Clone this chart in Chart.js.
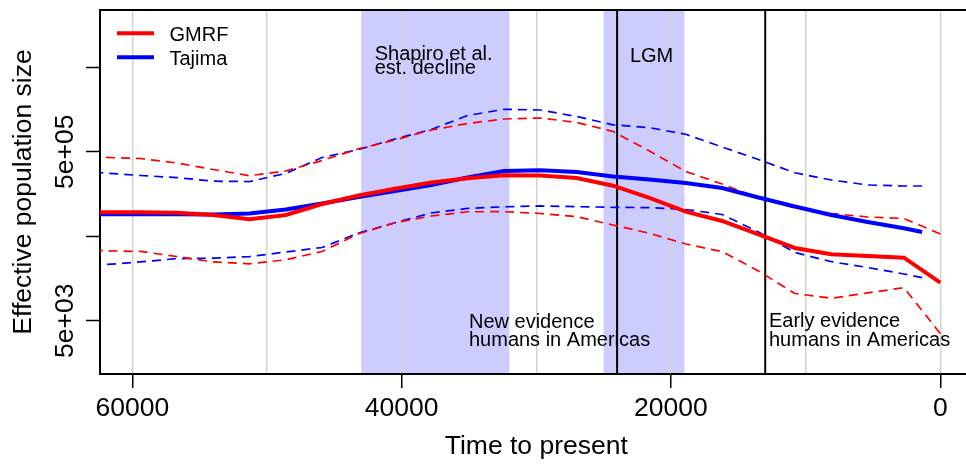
<!DOCTYPE html>
<html>
<head>
<meta charset="utf-8">
<script src="https://cdn.jsdelivr.net/npm/chart.js@4.4.1/dist/chart.umd.min.js"></script>
<style>
  html, body { margin: 0; padding: 0; background: #fff; overflow: hidden; }
  #wrap { width: 966px; height: 464px; overflow: hidden; position: relative; }
  canvas { position: absolute; left: 0; top: 0; }
</style>
</head>
<body>
<div id="wrap"><canvas id="c" width="980" height="464"></canvas></div>
<script>
// ---- data (time before present, effective population size) ----
const gmrfTimes = [0, 2700, 5400, 8100, 10800, 13500, 16200, 18900, 21600, 24300, 27000, 29700,
                   32400, 35100, 37800, 40500, 43200, 45900, 48600, 51300, 54000, 56700, 59400, 62400];
const gmrfMedian = [14100, 27800, 29150, 30530, 36270, 52350, 75650, 97500, 141600, 198000, 244200, 261400,
                    262800, 242800, 215900, 181900, 151600, 120200, 89100, 79250, 89100, 94850, 95900, 95900];
const gmrfUpper = [53100, 81000, 84350, 92800, 107800, 141600, 207400, 291500, 509700, 867000, 1108000, 1252500,
                   1219000, 1078000, 903000, 687700, 541100, 393400, 295500, 260000, 307800, 367500, 415400, 429100];
const gmrfLower = [3528, 12290, 10640, 9205, 10490, 19370, 32790, 40430, 54100, 67860, 85060, 92800,
                   97500, 97240, 86700, 72050, 53380, 32970, 26280, 23570, 24760, 28760, 32970, 33700];

const tajimaTimes = [1350, 2700, 5400, 8100, 10800, 13500, 16200, 18900, 21600, 24300, 27000, 29700,
                     32400, 35100, 37800, 40500, 43200, 45900, 48600, 51300, 54000, 56700, 59400, 62400];
const tajimaMedian = [56060, 62030, 73600, 89100, 112300, 143500, 185900, 213100, 234400, 254300, 287600, 301200,
                      295500, 247600, 201800, 171300, 145500, 121900, 103500, 92800, 90300, 90800, 90800, 90800];
const tajimaUpper = [196300, 196300, 201800, 231200, 281400, 404300, 568200, 803300, 961500, 1040600, 1304600, 1557300,
                     1587400, 1340600, 915400, 706700, 529500, 427000, 276800, 221400, 223800, 246900, 261400, 282200];
const tajimaLower = [16140, 17850, 21310, 24960, 32090, 56060, 90300, 103500, 108800, 109900, 111700, 113900,
                     111400, 106400, 94100, 72050, 54560, 36750, 32500, 28670, 27450, 27150, 24760, 22800];

const xGridTicks = [0, 10000, 20000, 30000, 40000, 50000, 60000];
const xLabelTicks = [0, 20000, 40000, 60000];
const yTickValues = [5000, 50000, 500000, 5000000];
const yLabelValues = [5000, 500000];
const yLabelTexts = ['5e+03', '5e+05'];

const shadedPeriods = [[43000, 32000], [25000, 19000]];
const eventTimes = [24000, 13000];

const FONT = "'Liberation Sans', Arial, Helvetica, sans-serif";
const AXIS_SIZE = 26.5;
const RED = '#FF0000', BLUE = '#0000FF';

function pts(times, vals) { return times.map((t, i) => ({ x: t, y: vals[i] })); }

const deco = {
  id: 'deco',
  beforeDraw(chart) {
    const { ctx, chartArea: a, scales: { x } } = chart;
    ctx.save();
    ctx.fillStyle = '#fff';
    ctx.fillRect(0, 0, chart.width, chart.height);
    ctx.fillStyle = '#CCCCFF';
    for (const [t1, t2] of shadedPeriods) {
      const x1 = x.getPixelForValue(t1), x2 = x.getPixelForValue(t2);
      ctx.fillRect(Math.min(x1, x2), a.top, Math.abs(x2 - x1), a.bottom - a.top);
    }
    ctx.restore();
  },
  beforeDatasetsDraw(chart) {
    const { ctx, chartArea: a, scales: { x } } = chart;
    ctx.save();
    ctx.strokeStyle = '#000';
    ctx.lineWidth = 2;
    for (const t of eventTimes) {
      const px = x.getPixelForValue(t);
      ctx.beginPath(); ctx.moveTo(px, a.top); ctx.lineTo(px, a.bottom); ctx.stroke();
    }
    ctx.restore();
  },
  afterDatasetsDraw(chart) {
    const { ctx, chartArea: a, scales: { x, y } } = chart;
    ctx.save();
    // top frame line
    ctx.strokeStyle = '#000';
    ctx.lineWidth = 2;
    ctx.beginPath(); ctx.moveTo(a.left - 1, a.top); ctx.lineTo(chart.width, a.top); ctx.stroke();

    // annotations
    ctx.fillStyle = '#000';
    ctx.font = '20px ' + FONT;
    ctx.textAlign = 'left';
    ctx.textBaseline = 'alphabetic';
    ctx.fillText('Shapiro et al.', x.getPixelForValue(42000), 60);
    ctx.fillText('est. decline', x.getPixelForValue(42000), 73.5);
    ctx.fillText('LGM', x.getPixelForValue(23050), 61.7);
    ctx.fillText('New evidence', x.getPixelForValue(35000), 328.3);
    ctx.fillText('humans in Americas', x.getPixelForValue(35000), 345.7);
    ctx.fillText('Early evidence', x.getPixelForValue(12720), 327);
    ctx.fillText('humans in Americas', x.getPixelForValue(12720), 345.7);

    // legend
    ctx.lineWidth = 4;
    ctx.lineCap = 'butt';
    ctx.strokeStyle = RED;
    ctx.beginPath(); ctx.moveTo(117, 33.3); ctx.lineTo(154, 33.3); ctx.stroke();
    ctx.strokeStyle = BLUE;
    ctx.beginPath(); ctx.moveTo(117, 57.3); ctx.lineTo(154, 57.3); ctx.stroke();
    ctx.fillText('GMRF', 169.5, 40.7);
    ctx.fillText('Tajima', 169.5, 64.5);

    // rotated y tick labels
    ctx.font = AXIS_SIZE + 'px ' + FONT;
    ctx.textAlign = 'center';
    yLabelValues.forEach((v, i) => {
      const py = y.getPixelForValue(v);
      ctx.save();
      ctx.translate(73, py);
      ctx.rotate(-Math.PI / 2);
      ctx.fillText(yLabelTexts[i], 0, 0);
      ctx.restore();
    });
    ctx.restore();
  }
};

const dashed = [9, 6];
new Chart(document.getElementById('c'), {
  type: 'line',
  data: {
    datasets: [
      { label: 'GMRF', data: pts(gmrfTimes, gmrfMedian), borderColor: RED, borderWidth: 4, order: 1 },
      { label: 'GMRF upper', data: pts(gmrfTimes, gmrfUpper), borderColor: RED, borderWidth: 1.7, borderDash: dashed, order: 3 },
      { label: 'GMRF lower', data: pts(gmrfTimes, gmrfLower), borderColor: RED, borderWidth: 1.7, borderDash: dashed, order: 3 },
      { label: 'Tajima', data: pts(tajimaTimes, tajimaMedian), borderColor: BLUE, borderWidth: 4, order: 2 },
      { label: 'Tajima upper', data: pts(tajimaTimes, tajimaUpper), borderColor: BLUE, borderWidth: 1.7, borderDash: dashed, order: 4 },
      { label: 'Tajima lower', data: pts(tajimaTimes, tajimaLower), borderColor: BLUE, borderWidth: 1.7, borderDash: dashed, order: 4 }
    ]
  },
  options: {
    responsive: false,
    devicePixelRatio: 1,
    animation: false,
    elements: { point: { radius: 0, hoverRadius: 0 }, line: { tension: 0, fill: false, borderCapStyle: 'butt' } },
    layout: { padding: { top: 10, right: 7.4, left: 0, bottom: 0 } },
    plugins: { legend: { display: false }, tooltip: { enabled: false } },
    scales: {
      x: {
        type: 'linear', reverse: true, min: -2400, max: 62400,
        afterBuildTicks: s => { s.ticks = xGridTicks.map(v => ({ value: v })); },
        afterFit: s => { s.height = 90; },
        ticks: {
          autoSkip: false, maxRotation: 0, minRotation: 0, padding: 5.2, color: '#000',
          font: { family: FONT, size: AXIS_SIZE },
          callback: v => xLabelTicks.includes(v) ? String(v) : ''
        },
        grid: {
          color: '#D3D3D3', lineWidth: 1.5, drawTicks: true, tickLength: 14, tickWidth: 1.5,
          tickColor: c => (c.tick && xLabelTicks.includes(c.tick.value)) ? '#000' : 'rgba(0,0,0,0)'
        },
        border: { display: true, color: '#000', width: 2 },
        title: { display: true, text: 'Time to present', color: '#000', font: { family: FONT, size: AXIS_SIZE }, padding: { top: 0, bottom: 1.6 } }
      },
      y: {
        type: 'logarithmic', min: 1169, max: 23760000,
        afterBuildTicks: s => { s.ticks = yTickValues.map(v => ({ value: v })); },
        afterFit: s => { s.width = 100; },
        ticks: { display: false },
        grid: { drawOnChartArea: false, drawTicks: true, tickLength: 14, tickWidth: 1.5, tickColor: '#000' },
        border: { display: true, color: '#000', width: 2 },
        title: { display: true, text: 'Effective population size', color: '#000', font: { family: FONT, size: AXIS_SIZE }, padding: { top: 7.9, bottom: 0 } }
      }
    }
  },
  plugins: [deco]
});
</script>
</body>
</html>
